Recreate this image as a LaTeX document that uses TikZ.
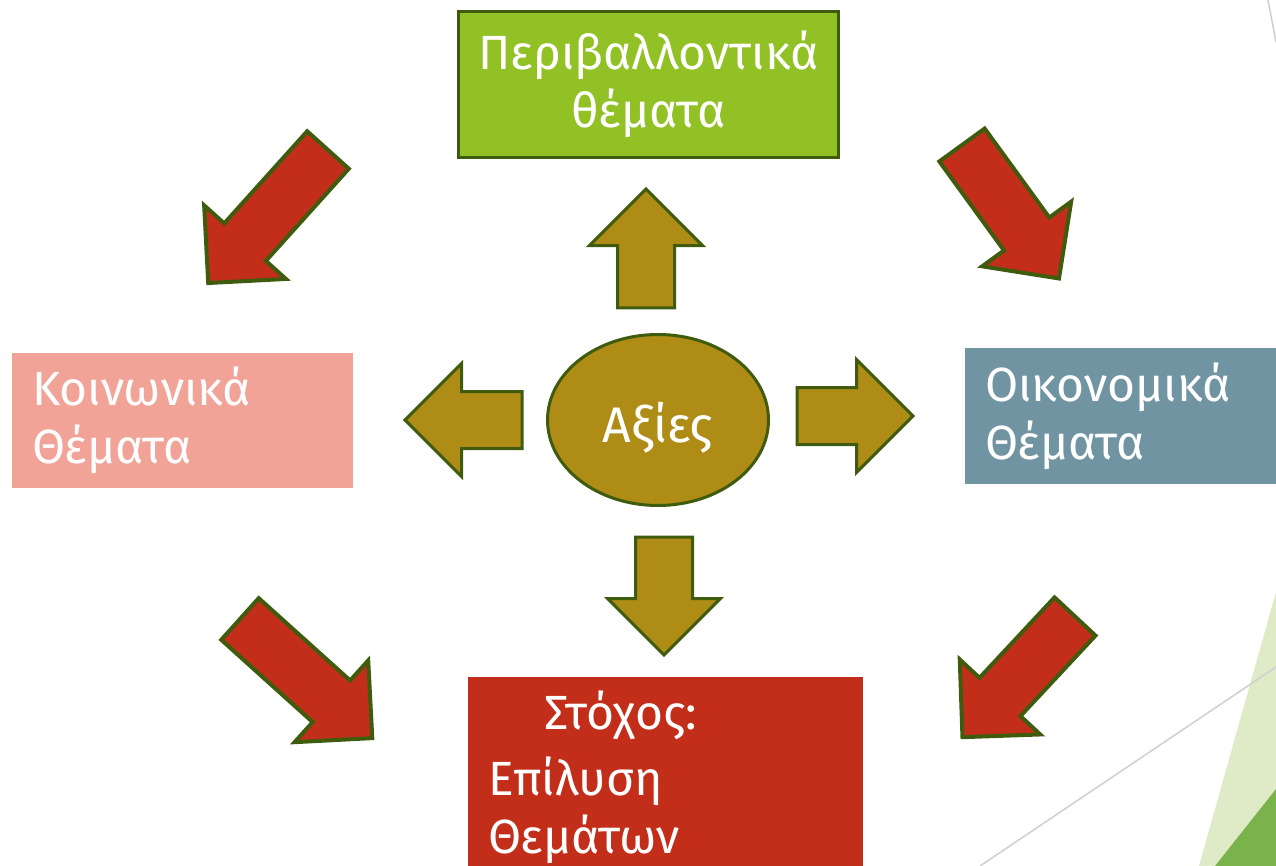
\documentclass[tikz,border=0pt]{standalone}
\usepackage{fontspec}
\setmainfont{Fira Sans}
\usetikzlibrary{positioning, shapes.geometric, shapes.arrows}
\usepackage{xcolor}

\definecolor{leafgreen}{HTML}{92C125}
\definecolor{edgegreen}{HTML}{3F5C0E}
\definecolor{brickred}{HTML}{C32E1A}
\definecolor{salmon}{HTML}{F2A398}
\definecolor{slateblue}{HTML}{7094A1}
\definecolor{ochre}{HTML}{AE8C15}
\definecolor{palegreen}{HTML}{DEEBC6}
\definecolor{grassgreen}{HTML}{7AB34B}
\definecolor{rulegrey}{HTML}{CFCFCF}

\tikzset{
  topic/.style={rectangle, inner xsep=20pt, inner ysep=0pt, align=left, text=white, font=\fontsize{48}{58}\selectfont},
  push/.style={single arrow, anchor=tail, fill=ochre, draw=edgegreen, line width=3pt, inner xsep=0pt, inner ysep=27pt, single arrow head extend=28pt, single arrow tip angle=90, minimum width=0pt, outer sep=0pt},
  shove/.style={push, fill=brickred, line width=4pt, inner ysep=26pt, single arrow head extend=27pt}
}

\begin{document}
\begin{tikzpicture}[x=1pt, y=-1pt]
\useasboundingbox (0,0) rectangle (1276,866);
\fill[palegreen] (1276,592) -- (1199,866) -- (1276,866) -- cycle;
\fill[grassgreen] (1276,789) -- (1215,866) -- (1276,866) -- cycle;
\draw[rulegrey, line width=1.5pt] (1276,667) -- (980,866);
\draw[rulegrey, line width=1.5pt] (1268,0) -- (1276,42);

\node[topic, fill=leafgreen, draw=edgegreen, line width=3pt, minimum width=379pt, minimum height=146pt, text width=340pt, align=center] (environment) at (648.5,84.5) {Περιβαλλοντικά\\θέματα};
\node[topic, fill=salmon, minimum width=341pt, minimum height=135pt, text width=301pt] (social) at (182.5,420.5) {Κοινωνικά\\Θέματα};
\node[topic, fill=slateblue, minimum width=311pt, minimum height=136pt, text width=271pt] (economic) at (1120.5,416) {Οικονομικά\\Θέματα};
\node[topic, fill=brickred, anchor=north west, minimum width=395pt, minimum height=200pt, text width=355pt] (goal) at (468,677) {\hspace*{56pt}Στόχος:\\[8pt]Επίλυση\\Θεμάτων};
\node[ellipse, fill=ochre, draw=edgegreen, line width=3pt, minimum width=221pt, minimum height=171pt, text=white, text height=44pt, text depth=0pt, font=\fontsize{50}{60}\selectfont] (values) at (658,420) {Αξίες};

\node[push, rotate=90, minimum height=119pt] (toEnvironment) at (646,308) {};
\node[push, rotate=180, minimum height=117pt] (toSocial) at (522,420) {};
\node[push, rotate=0, minimum height=116pt] (toEconomic) at (797,416) {};
\node[push, rotate=-90, minimum height=118pt] (toGoal) at (664,537) {};

\node[shove, rotate=-132, minimum height=179pt] (envSocial) at (328,150) {};
\node[shove, rotate=-54, minimum height=165pt] (envEconomic) at (962,145) {};
\node[shove, rotate=-42, minimum height=178pt] (socialGoal) at (240,619) {};
\node[shove, rotate=-133, minimum height=165pt] (economicGoal) at (1075,616.5) {};
\end{tikzpicture}
\end{document}
